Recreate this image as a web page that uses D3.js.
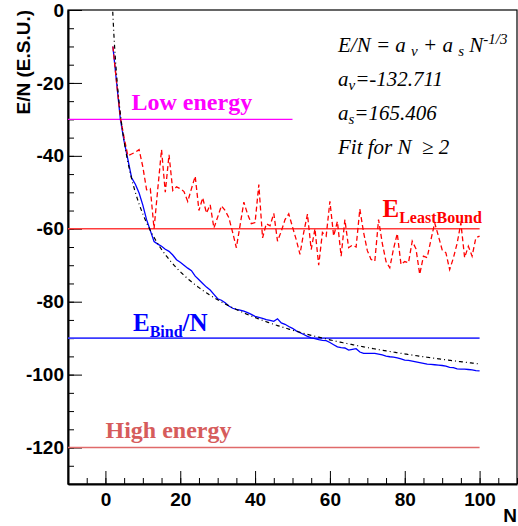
<!DOCTYPE html>
<html><head><meta charset="utf-8">
<script src="https://cdn.jsdelivr.net/npm/d3@7"></script>
<style>body{margin:0;background:#fff} svg{display:block}</style>
</head><body><svg id="c" width="518" height="526"></svg>
<script>
// ---- data ----
const nFirst = 2; // first N of the series
const bindPerN = [
  -10, -20, -30, -36, -41, -46, -47.8, -50.2, -53.5, -57.5,
  -60.5, -63.5, -64.2, -64.8, -65.6, -66.2, -67.2, -68.5, -69.2, -70,
  -70.8, -71.5, -73, -74, -75, -76, -76.8, -78, -79.2, -79.6,
  -80.3, -81.2, -81.8, -82.1, -82.3, -82.6, -83, -83.5, -84, -84.3,
  -84.6, -84.9, -85.1, -85.4, -84.7, -85.8, -86.2, -86.8, -87.3, -88,
  -88.5, -89, -89.5, -89.9, -90.1, -90.4, -90.6, -90.7, -91.2, -91.8,
  -92.4, -92.6, -92.7, -93.3, -93.1, -92.9, -93.8, -94.2, -94.2, -94.2,
  -94.2, -94.4, -94.6, -94.9, -95.1, -95.2, -95.4, -95.7, -96, -96.1,
  -96.3, -96.5, -96.7, -96.9, -97.1, -97.2, -97.3, -97.4, -97.5, -97.7,
  -98, -98.1, -98.4, -98.5, -98.5, -98.6, -98.7, -98.9, -99
];
const leastBound = [
  -10, -20, -29.5, -35, -40, -39.5, -39, -38.3, -43, -49.3,
  -49, -60, -49, -38.3, -50, -39.7, -49.5, -48.5, -49, -49.8,
  -52.5, -49, -45.6, -55, -51.5, -55.7, -53.4, -59.8, -56.8, -53.7,
  -55, -57, -61, -65.2, -59, -52.7, -56, -58.6, -58.3, -47.9,
  -62.5, -58.6, -59.2, -55.8, -63.4, -60.7, -57.5, -55.9, -59.5, -63,
  -67, -61, -56, -65.7, -60, -70, -61, -62, -52.5, -62,
  -58, -67.5, -57.5, -65.2, -64.5, -65, -54.6, -61, -66, -68.4,
  -68.9, -57.5, -64, -69, -70.7, -65.5, -61.3, -69.8, -69, -69.3,
  -63.4, -65.5, -72.5, -67.5, -67.9, -63, -58.4, -62, -65.8, -66.6,
  -71.2, -68, -64, -58.4, -67.9, -64.8, -67.5, -62.5, -62
];
const fitAv = -132.711, fitAs = 165.406;   // fit parameters shown in the legend
const fitRange = [1, 100];
const xTicks = [0, 20, 40, 60, 80, 100];
const yTicks = [0, -20, -40, -60, -80, -100, -120];
const refLevels = [-30, -60, -90, -120];
const refEnds = [50, 100, 100, 100];

// ---- drawing ----
const svg = d3.select("#c");
const x = d3.scaleLinear().domain([-10, 110]).range([68, 517]);
const y = d3.scaleLinear().domain([-130, 0]).range([484, 10]);

svg.append("defs").append("clipPath").attr("id", "clip")
  .append("rect").attr("x", 68).attr("y", 10).attr("width", 449).attr("height", 474);

svg.append("rect").attr("x", 68).attr("y", 10).attr("width", 449).attr("height", 474)
  .attr("fill", "none").attr("stroke", "#000").attr("stroke-width", 1.2);

const tickFont = g => g.attr("font-family", "Liberation Sans, Arial, sans-serif")
  .attr("font-size", 19).attr("font-weight", "bold");

// minor ticks
svg.append("g").attr("transform", "translate(68,0)")
  .call(d3.axisLeft(y).tickValues(d3.range(-130, 1, 5)).tickSizeInner(-6).tickSizeOuter(0).tickFormat(""))
  .call(g => g.select(".domain").remove());
svg.append("g").attr("transform", "translate(0,484)")
  .call(d3.axisBottom(x).tickValues(d3.range(-10, 111, 5)).tickSizeInner(-6).tickSizeOuter(0).tickFormat(""))
  .call(g => g.select(".domain").remove());

// major axes
svg.append("g").attr("transform", "translate(68,0)")
  .call(d3.axisLeft(y).tickValues(yTicks).tickSizeInner(-14).tickSizeOuter(0).tickPadding(4).tickFormat(d => String(d)))
  .call(tickFont)
  .call(g => g.select(".domain").attr("stroke-width", 2))
  .call(g => g.selectAll("text").attr("fill", "#000"));
svg.append("g").attr("transform", "translate(0,484)")
  .call(d3.axisBottom(x).tickValues(xTicks).tickSizeInner(-13).tickSizeOuter(0).tickPadding(9).tickFormat(d => String(d)))
  .call(tickFont)
  .call(g => g.select(".domain").attr("stroke-width", 2))
  .call(g => g.selectAll("text").attr("fill", "#000"));

// axis titles
svg.append("text").attr("transform", "translate(29.5,10) rotate(-90)")
  .attr("text-anchor", "end").call(tickFont).text("E/N (E.S.U.)");
svg.append("text").attr("x", 517).attr("y", 522).attr("text-anchor", "end")
  .call(tickFont).text("N");

// reference lines
const refColors = ["#ff00ff", "#ff3c3c", "#3a3aff", "#e06a6a"];
const refWidths = [1.3, 1.6, 1.6, 1.6];
refLevels.forEach((v, i) => {
  svg.append("line").attr("x1", x(-10)).attr("x2", x(refEnds[i]))
    .attr("y1", y(v)).attr("y2", y(v))
    .attr("stroke", refColors[i]).attr("stroke-width", refWidths[i]);
});

const line = d3.line().x(d => x(d[0])).y(d => y(d[1]));
const plot = svg.append("g").attr("clip-path", "url(#clip)");

const bindPts = bindPerN.map((v, i) => [nFirst + i, v]);
const lbPts = leastBound.map((v, i) => [nFirst + i, v]);

plot.append("path").attr("d", line(bindPts)).attr("fill", "none")
  .attr("stroke", "#0000ff").attr("stroke-width", 1.3);
plot.append("path").attr("d", line(lbPts)).attr("fill", "none")
  .attr("stroke", "#ff0000").attr("stroke-width", 1.3).attr("stroke-dasharray", "5,3");

const fitN = d3.range(fitRange[0], fitRange[1] + 0.001, 0.25);
const fitPts = fitN.map(n => [n, fitAv + fitAs * Math.pow(n, -1 / 3)]);
plot.append("path").attr("d", line(fitPts)).attr("fill", "none")
  .attr("stroke", "#000").attr("stroke-width", 1.2).attr("stroke-dasharray", "4,3,1,3");

// labels
const serifB = t => t.attr("font-family", "Liberation Serif, Times New Roman, serif").attr("font-weight", "bold");
svg.append("text").attr("x", 131.5).attr("y", 110).attr("font-size", 24).attr("fill", "#ff00ff")
  .call(serifB).text("Low energy");
svg.append("text").attr("x", 105.5).attr("y", 437.5).attr("font-size", 24).attr("fill", "#d65c5c")
  .call(serifB).text("High energy");

const lb = svg.append("text").attr("x", 382.5).attr("y", 216.5).attr("font-size", 25).attr("fill", "#ff0000").call(serifB);
lb.append("tspan").text("E");
lb.append("tspan").attr("font-size", 16).attr("dy", 6).text("LeastBound");

const eb = svg.append("text").attr("x", 133).attr("y", 331).attr("font-size", 25).attr("fill", "#0000ff").call(serifB);
eb.append("tspan").text("E");
eb.append("tspan").attr("font-size", 16).attr("dy", 5.5).text("Bind");
eb.append("tspan").attr("dy", -5.5).text("/N");

// formula box text
const italic = t => t.attr("font-family", "Liberation Serif, Times New Roman, serif")
  .attr("font-style", "italic").attr("font-size", 21).attr("fill", "#000").style("white-space", "pre");
const f1 = svg.append("text").attr("x", 338).attr("y", 52).call(italic);
f1.append("tspan").text("E/N = a ");
f1.append("tspan").attr("font-size", 15).attr("dy", 4).text("v");
f1.append("tspan").attr("dy", -4).text(" + a ");
f1.append("tspan").attr("font-size", 15).attr("dy", 4).text("s");
f1.append("tspan").attr("dy", -4).text(" N");
f1.append("tspan").attr("font-size", 15).attr("dy", -8).text("-1/3");

const f2 = svg.append("text").attr("x", 338).attr("y", 86).call(italic);
f2.append("tspan").text("a");
f2.append("tspan").attr("font-size", 15).attr("dy", 4).text("v");
f2.append("tspan").attr("dy", -4).text("=" + fitAv);

const f3 = svg.append("text").attr("x", 338).attr("y", 120).call(italic);
f3.append("tspan").text("a");
f3.append("tspan").attr("font-size", 15).attr("dy", 4).text("s");
f3.append("tspan").attr("dy", -4).text("=" + fitAs);

svg.append("text").attr("x", 338).attr("y", 154).call(italic).text("Fit for N  \u2265 2");
</script></body></html>
